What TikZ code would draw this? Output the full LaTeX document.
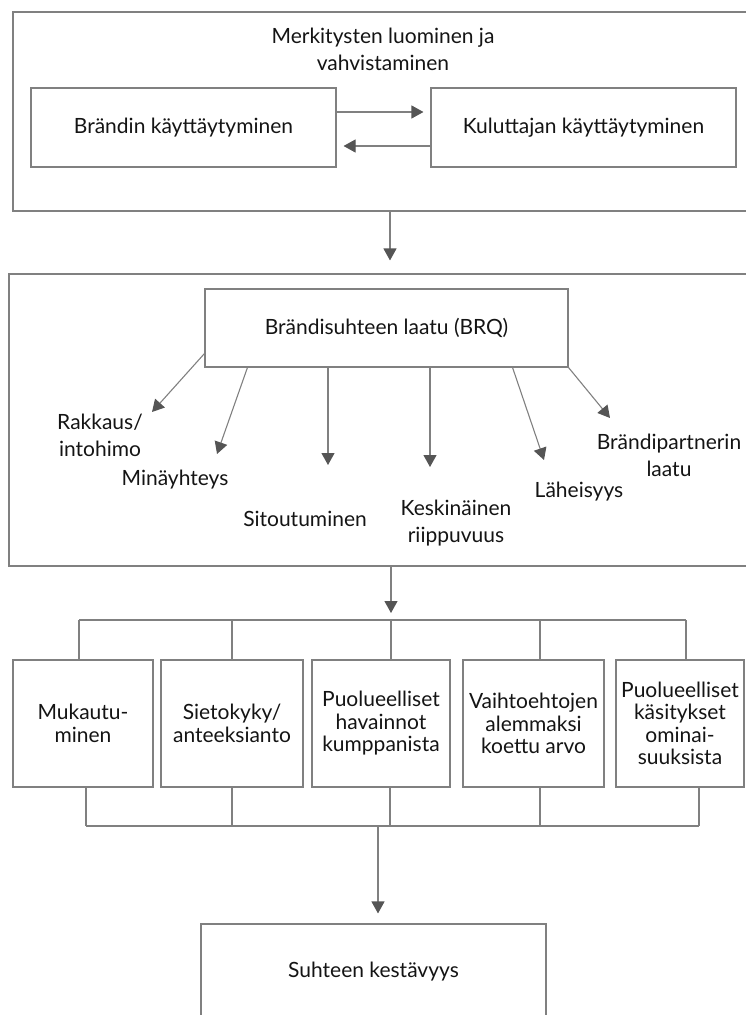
\documentclass[tikz,border=0pt]{standalone}
\usepackage{fontspec}
\setmainfont{Lato}
\usetikzlibrary{arrows.meta}
\usetikzlibrary{calc}
\definecolor{linegray}{RGB}{128,128,128}
\definecolor{headgray}{RGB}{85,85,85}
\definecolor{txt}{RGB}{20,20,20}

\begin{document}
\begin{tikzpicture}[x=1pt,y=-1pt,
  frame/.style={draw=linegray,line width=1.1pt},
  box/.style={draw=linegray,line width=1.1pt,align=center,inner sep=2pt,
              text=txt,font=\fontsize{21}{22.5}\selectfont},
  lbl/.style={align=center,inner sep=0pt,text=txt,font=\fontsize{21}{27}\selectfont},
  link/.style={draw=linegray,line width=1.1pt},
  arr/.style={draw=linegray,line width=1.1pt,
              -{Triangle[length=12pt,width=13pt,color=headgray]}}]

  \useasboundingbox (0,0) rectangle (746,1015);

  % ===== meanings: brand <-> consumer =====
  \node[frame,minimum width=740,minimum height=199] (top) at (383,111.5) {};
  \node[lbl] (title) at (383,49) {Merkitysten luominen ja\\vahvistaminen};
  \node[box,minimum width=305,minimum height=79] (brand) at (183.5,127.5) {Brändin käyttäytyminen};
  \node[box,minimum width=305,minimum height=79] (cons) at (583.5,127.5) {Kuluttajan käyttäytyminen};
  \draw[arr,shorten >=7pt] ([yshift=15.5pt]brand.east) -- ([yshift=15.5pt]cons.west);
  \draw[arr,shorten >=7pt] ([yshift=-18.5pt]cons.west) -- ([yshift=-18.5pt]brand.east);

  % ===== brand relationship quality =====
  \node[frame,minimum width=743,minimum height=292] (mid) at (380.5,420) {};
  \node[box,minimum width=363,minimum height=78] (brq) at (386.5,328) {Brändisuhteen laatu (BRQ)};
  \coordinate (spine) at (390,0);
  \draw[arr,shorten >=13pt] (top.south -| spine) -- (mid.north -| spine);

  \node[lbl] (love) at (100,435) {Rakkaus/\\intohimo};
  \node[lbl] (self) at (175,480) {Minäyhteys};
  \node[lbl] (commit) at (305,519) {Sitoutuminen};
  \node[lbl] (interdep) at (456,523) {Keskinäinen\\riippuvuus};
  \node[lbl] (intim) at (579,492) {Läheisyys};
  \node[lbl] (partner) at (669,455) {Brändipartnerin\\laatu};

  \coordinate (tLove) at (152,412);
  \coordinate (tSelf) at (217,454);
  \coordinate (tCommit) at (328,465);
  \coordinate (tInter) at (430,467);
  \coordinate (tIntim) at (544,460);
  \coordinate (tPartner) at (610,418);
  \draw[arr] ([yshift=14pt]brq.south west) -- (tLove);
  \draw[arr] ([xshift=43pt]brq.south west) -- (tSelf);
  \draw[arr] (brq.south -| tCommit) -- (tCommit);
  \draw[arr] (brq.south -| tInter) -- (tInter);
  \draw[arr] ([xshift=-56pt]brq.south east) -- (tIntim);
  \draw[arr] (brq.south east) -- (tPartner);

  % ===== five maintenance factors =====
  \node[box,minimum width=140,minimum height=127] (b1) at (83,723.5) {Mukautu-\\minen};
  \node[box,minimum width=142,minimum height=127] (b2) at (232,723.5) {Sietokyky/\\anteeksianto};
  \node[box,minimum width=138,minimum height=127] (b3) at (381,723.5) {Puolueelliset\\havainnot\\kumppanista};
  \node[box,minimum width=141,minimum height=127] (b4) at (533.5,723.5) {Vaihtoehtojen\\alemmaksi\\koettu arvo};
  \node[box,minimum width=128,minimum height=127] (b5) at (680,723.5) {Puolueelliset\\käsitykset\\ominai-\\suuksista};

  \foreach \n/\x in {1/79,2/232,3/391,4/540,5/686} {
    \coordinate (t\n) at (\x,620);
    \draw[link] (t\n) -- (b\n.north -| t\n);
  }
  \draw[link] (t1) -- (t5);
  \draw[arr,shorten >=7pt] (mid.south -| t3) -- (t3);

  \foreach \n/\x in {1/86,2/232,3/390,4/540,5/699} {
    \coordinate (u\n) at (\x,826);
    \draw[link] (b\n.south -| u\n) -- (u\n);
  }
  \draw[link] (u1) -- (u5);

  % ===== outcome =====
  \node[box,minimum width=345,minimum height=96] (fin) at (373.5,972) {Suhteen kestävyys};
  \coordinate (fx) at (378,826);
  \draw[arr,shorten >=10pt] (fx) -- (fin.north -| fx);

\end{tikzpicture}
\end{document}
